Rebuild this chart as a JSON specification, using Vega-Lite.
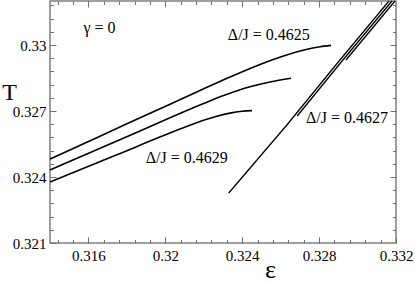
{
  "$schema": "https://vega.github.io/schema/vega-lite/v6.json",
  "width": 346,
  "height": 242,
  "autosize": {"type": "none"},
  "padding": {"left": 50, "top": 1, "right": 19, "bottom": 40},
  "config": {
    "view": {"stroke": "#808080", "strokeWidth": 1.5},
    "font": "Liberation Serif, Times New Roman, serif",
    "axis": {
      "domain": false,
      "grid": false,
      "labelFont": "Liberation Serif, Times New Roman, serif",
      "labelFontSize": 15,
      "labelColor": "#000000",
      "tickColor": "#707070",
      "tickWidth": 1,
      "titleFont": "Liberation Serif, Times New Roman, serif",
      "titleFontWeight": "normal",
      "titleColor": "#000000",
      "labelFlush": false,
      "labelOverlap": false
    }
  },
  "datasets": {
    "curves": [
      {"curve": "c4625", "kind": "curve", "i": 0, "eps": 0.314, "T": 0.324818},
      {"curve": "c4625", "kind": "curve", "i": 1, "eps": 0.316601, "T": 0.325855},
      {"curve": "c4625", "kind": "curve", "i": 2, "eps": 0.319202, "T": 0.326895},
      {"curve": "c4625", "kind": "curve", "i": 3, "eps": 0.321804, "T": 0.327932},
      {"curve": "c4625", "kind": "curve", "i": 4, "eps": 0.323364, "T": 0.328545},
      {"curve": "c4625", "kind": "curve", "i": 5, "eps": 0.324925, "T": 0.329118},
      {"curve": "c4625", "kind": "curve", "i": 6, "eps": 0.326226, "T": 0.329527},
      {"curve": "c4625", "kind": "curve", "i": 7, "eps": 0.327266, "T": 0.329782},
      {"curve": "c4625", "kind": "curve", "i": 8, "eps": 0.328046, "T": 0.329918},
      {"curve": "c4625", "kind": "curve", "i": 9, "eps": 0.328619, "T": 0.329982},
      {"curve": "c4627", "kind": "curve", "i": 0, "eps": 0.314, "T": 0.324318},
      {"curve": "c4627", "kind": "curve", "i": 1, "eps": 0.317902, "T": 0.325795},
      {"curve": "c4627", "kind": "curve", "i": 2, "eps": 0.321804, "T": 0.327273},
      {"curve": "c4627", "kind": "curve", "i": 3, "eps": 0.323104, "T": 0.327727},
      {"curve": "c4627", "kind": "curve", "i": 4, "eps": 0.324405, "T": 0.328102},
      {"curve": "c4627", "kind": "curve", "i": 5, "eps": 0.325445, "T": 0.32832},
      {"curve": "c4627", "kind": "curve", "i": 6, "eps": 0.326538, "T": 0.328491},
      {"curve": "c4629", "kind": "curve", "i": 0, "eps": 0.314, "T": 0.323773},
      {"curve": "c4629", "kind": "curve", "i": 1, "eps": 0.317382, "T": 0.324977},
      {"curve": "c4629", "kind": "curve", "i": 2, "eps": 0.320763, "T": 0.326177},
      {"curve": "c4629", "kind": "curve", "i": 3, "eps": 0.321804, "T": 0.326523},
      {"curve": "c4629", "kind": "curve", "i": 4, "eps": 0.322584, "T": 0.326741},
      {"curve": "c4629", "kind": "curve", "i": 5, "eps": 0.323364, "T": 0.326905},
      {"curve": "c4629", "kind": "curve", "i": 6, "eps": 0.323989, "T": 0.326986},
      {"curve": "c4629", "kind": "curve", "i": 7, "eps": 0.324509, "T": 0.327018},
      {"curve": "s4629", "kind": "branch", "i": 0, "eps": 0.3233, "T": 0.323273},
      {"curve": "s4629", "kind": "branch", "i": 1, "eps": 0.326322, "T": 0.326364},
      {"curve": "s4629", "kind": "branch", "i": 2, "eps": 0.329083, "T": 0.329318},
      {"curve": "s4629", "kind": "branch", "i": 3, "eps": 0.331636, "T": 0.332},
      {"curve": "s4627", "kind": "branch", "i": 0, "eps": 0.326862, "T": 0.326773},
      {"curve": "s4627", "kind": "branch", "i": 1, "eps": 0.329239, "T": 0.329318},
      {"curve": "s4627", "kind": "branch", "i": 2, "eps": 0.331792, "T": 0.332},
      {"curve": "s4625", "kind": "branch", "i": 0, "eps": 0.329395, "T": 0.329318},
      {"curve": "s4625", "kind": "branch", "i": 1, "eps": 0.331948, "T": 0.332}
    ],
    "notes": [
      {"label": "γ = 0", "eps": 0.316579, "T": 0.330773},
      {"label": "Δ/J = 0.4625", "eps": 0.325384, "T": 0.330455},
      {"label": "Δ/J = 0.4627", "eps": 0.329447, "T": 0.326682},
      {"label": "Δ/J = 0.4629", "eps": 0.321112, "T": 0.324864}
    ]
  },
  "data": {"name": "curves"},
  "resolve": {"axis": {"x": "independent", "y": "independent"}},
  "layer": [
    {
      "transform": [{"filter": "datum.kind === 'curve'"}],
      "mark": {"type": "line", "color": "#000000", "strokeWidth": 1.6, "interpolate": "monotone"},
      "encoding": {
        "x": {"field": "eps", "type": "quantitative", "scale": {"domain": [0.314, 0.332], "nice": false, "zero": false},
          "axis": {"orient": "bottom", "values": [0.316, 0.32, 0.324, 0.328, 0.332], "ticks": false, "labelPadding": 5, "format": "~g",
            "title": "ε", "titleFontSize": 26, "titleX": 220, "titleY": 26, "titleAlign": "center", "titleBaseline": "middle"}},
        "y": {"field": "T", "type": "quantitative", "scale": {"domain": [0.321, 0.332], "nice": false, "zero": false},
          "axis": {"orient": "left", "values": [0.321, 0.324, 0.327, 0.33], "ticks": false, "labelPadding": 4, "format": "~g",
            "title": "T", "titleAngle": 0, "titleFontSize": 24, "titleX": -41, "titleY": 91, "titleAlign": "center", "titleBaseline": "middle"}},
        "detail": {"field": "curve"},
        "order": {"field": "i"}
      }
    },
    {
      "transform": [{"filter": "datum.kind === 'branch'"}],
      "mark": {"type": "line", "color": "#000000", "strokeWidth": 1.3},
      "encoding": {
        "x": {"field": "eps", "type": "quantitative", "axis": {"orient": "bottom", "values": [0.316, 0.32, 0.324, 0.328, 0.332], "tickSize": -6, "labels": false, "title": null}},
        "y": {"field": "T", "type": "quantitative", "axis": {"orient": "left", "values": [0.321, 0.324, 0.327, 0.33], "tickSize": -6, "labels": false, "title": null}},
        "detail": {"field": "curve"},
        "order": {"field": "i"}
      }
    },
    {
      "data": {"name": "notes"},
      "mark": {"type": "text", "font": "Liberation Serif, Times New Roman, serif", "fontSize": 16, "color": "#000000", "align": "center", "baseline": "middle"},
      "encoding": {
        "x": {"field": "eps", "type": "quantitative", "axis": {"orient": "bottom", "values": [0.3144, 0.3152, 0.316, 0.3168, 0.3176, 0.3184, 0.3192, 0.32, 0.3208, 0.3216, 0.3224, 0.3232, 0.324, 0.3248, 0.3256, 0.3264, 0.3272, 0.328, 0.3288, 0.3296, 0.3304, 0.3312], "tickSize": -3.5, "labels": false, "title": null}},
        "y": {"field": "T", "type": "quantitative", "axis": {"orient": "left", "values": [0.3216, 0.3222, 0.3228, 0.3234, 0.324, 0.3246, 0.3252, 0.3258, 0.3264, 0.327, 0.3276, 0.3282, 0.3288, 0.3294, 0.33, 0.3306, 0.3312, 0.3318], "tickSize": -3.5, "labels": false, "title": null}},
        "text": {"field": "label"}
      }
    },
    {
      "mark": {"type": "line", "opacity": 0},
      "encoding": {
        "x": {"field": "eps", "type": "quantitative", "axis": {"orient": "top", "values": [0.316, 0.32, 0.324, 0.328], "tickSize": -6, "labels": false, "title": null}},
        "y": {"field": "T", "type": "quantitative", "axis": {"orient": "right", "values": [0.324, 0.327, 0.33], "tickSize": -6, "labels": false, "title": null}},
        "detail": {"field": "curve"},
        "order": {"field": "i"}
      }
    },
    {
      "mark": {"type": "line", "opacity": 0},
      "encoding": {
        "x": {"field": "eps", "type": "quantitative", "axis": {"orient": "top", "values": [0.3144, 0.3152, 0.316, 0.3168, 0.3176, 0.3184, 0.3192, 0.32, 0.3208, 0.3216, 0.3224, 0.3232, 0.324, 0.3248, 0.3256, 0.3264, 0.3272, 0.328, 0.3288, 0.3296, 0.3304, 0.3312], "tickSize": -3.5, "labels": false, "title": null}},
        "y": {"field": "T", "type": "quantitative", "axis": {"orient": "right", "values": [0.3216, 0.3222, 0.3228, 0.3234, 0.324, 0.3246, 0.3252, 0.3258, 0.3264, 0.327, 0.3276, 0.3282, 0.3288, 0.3294, 0.33, 0.3306, 0.3312, 0.3318], "tickSize": -3.5, "labels": false, "title": null}},
        "detail": {"field": "curve"},
        "order": {"field": "i"}
      }
    }
  ]
}
